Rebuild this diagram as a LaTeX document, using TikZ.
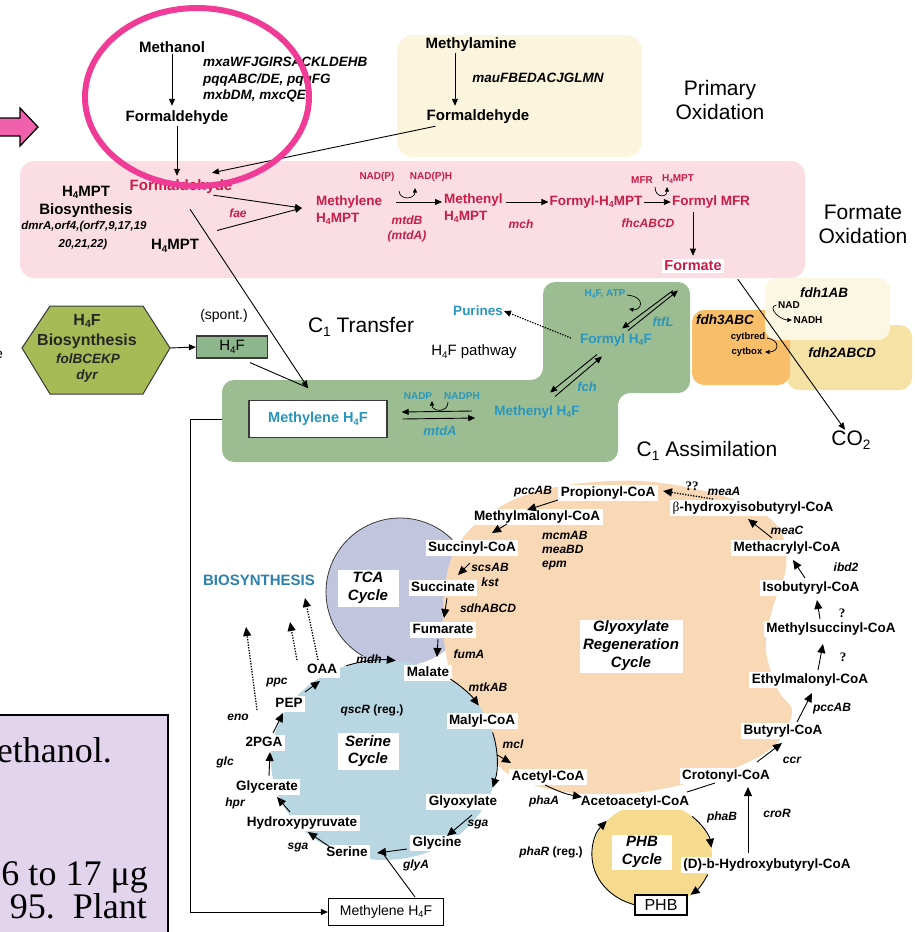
\documentclass[tikz,border=0pt]{standalone}
\usepackage{fontspec}
\setmainfont{Liberation Sans}
\newfontfamily\serifface{Liberation Serif}
\usetikzlibrary{arrows.meta,calc}
\pgfdeclarelayer{bg}
\pgfdeclarelayer{top}
\pgfsetlayers{bg,main,top}
\newcommand{\lo}[1]{\raisebox{-0.3ex}{\scalebox{0.65}{#1}}}

\definecolor{fred}{HTML}{C91C46}
\definecolor{fteal}{HTML}{2A96BE}
\definecolor{bioteal}{HTML}{2A80AE}
\definecolor{primbg}{HTML}{FBF5DE}
\definecolor{formbg}{HTML}{FADEE4}
\definecolor{cgreen}{HTML}{9CBD92}
\definecolor{hexfill}{HTML}{A6BA56}
\definecolor{h4fbox}{HTML}{8EB68C}
\definecolor{boxline}{HTML}{3A3A3A}
\definecolor{fdhone}{HTML}{FCF7E2}
\definecolor{fdhtwo}{HTML}{F7E2A5}
\definecolor{fdhthree}{HTML}{F8BE69}
\definecolor{peach}{HTML}{F9D8B6}
\definecolor{tcafill}{HTML}{C1C5DE}
\definecolor{serfill}{HTML}{B9D7E3}
\definecolor{phbfill}{HTML}{F6DA8E}
\definecolor{hotpink}{HTML}{F03C96}
\definecolor{arrpink}{HTML}{F060AC}
\definecolor{lavender}{HTML}{E1D4EC}

\tikzset{
  up/.style={font=\fontsize{15}{18}\selectfont\bfseries, inner sep=1pt},
  hd/.style={font=\fontsize{21}{24}\selectfont, align=center, inner sep=0pt},
  rd/.style={font=\fontsize{13.5}{16.5}\selectfont\bfseries, text=fred, inner sep=1pt},
  gu/.style={font=\fontsize{13.5}{16.5}\selectfont\bfseries\itshape, inner sep=1pt},
  gl/.style={font=\fontsize{12}{14}\selectfont\bfseries\itshape, inner sep=1pt},
  sm/.style={font=\fontsize{10}{11}\selectfont\bfseries, inner sep=0.5pt},
  tl/.style={font=\fontsize{13.5}{16}\selectfont\bfseries, text=fteal, inner sep=1pt},
  met/.style={font=\fontsize{13.5}{16}\selectfont\bfseries, fill=white,
    inner xsep=2.5pt, inner ysep=2pt, text height=9.8pt, text depth=2.8pt},
  cyc/.style={font=\fontsize{15}{17.5}\selectfont\bfseries\itshape, fill=white,
    align=center, inner sep=0pt},
  qm/.style={font=\serifface\fontsize{13}{15}\selectfont\bfseries, inner sep=0.5pt},
  lv/.style={font=\serifface\fontsize{36}{40}\selectfont, anchor=base east, inner sep=0pt},
  ln/.style={line width=0.9pt},
  ar/.style={ln, -{Triangle[length=9pt,width=8pt]}},
  ars/.style={ln, -{Triangle[length=7pt,width=6pt]}},
  art/.style={line width=0.7pt, -{Triangle[length=4.5pt,width=4pt]}},
  dt/.style={line width=1.3pt, dash pattern=on 1.3pt off 1.4pt},
}

\begin{document}
\begin{tikzpicture}[x=1pt,y=-1pt]
\useasboundingbox (0,0) rectangle (914,932);

% ---------- reference points of the cycles ----------
\coordinate (tcacen) at (400,592);
\coordinate (sercen) at (384,760);
\coordinate (phbcen) at (652,855);
\coordinate (hexL) at (22,348);
\coordinate (hexR) at (170,348);
\coordinate (gedge) at (222,419);

% ---------- background areas ----------
\begin{pgfonlayer}{bg}
  \fill[primbg, rounded corners=16] (397,35) rectangle (642,157);
  \fill[formbg, rounded corners=14] (20,161) rectangle (805,278);
  \fill[fdhtwo, rounded corners=12] (787,325) rectangle (912,390);
  \fill[fdhthree, rounded corners=12] (692,310) rectangle (790,385);
  \fill[fdhone, rounded corners=12] (765,278) rectangle (890,340);
  \fill[cgreen, rounded corners=12] (222,380) -- (543,380) -- (543,282) -- (690,282)
     -- (690,393) -- (618,393) -- (618,462) -- (222,462) -- cycle;
  \filldraw[fill=hexfill, draw=boxline, line width=1pt]
     (hexL) -- (50,306) -- (143,306) -- (hexR) -- (143,394) -- (50,394) -- cycle;
  \fill[tcafill] (tcacen) circle[radius=74];
  \fill[peach] plot[smooth cycle, tension=0.6] coordinates {
     (478,522) (520,497) (575,484) (640,481) (700,490) (750,506) (780,530)
     (786,568) (772,610) (766,650) (778,690) (792,712) (775,745) (735,768)
     (685,784) (625,794) (565,792) (515,778) (490,755) (470,720) (452,680)
     (443,630) (445,585) (455,550)};
  \fill[serfill] (sercen) ellipse[x radius=113, y radius=100];
  \fill[phbfill] (phbcen) ellipse[x radius=60, y radius=52];
\end{pgfonlayer}

% ---------- primary oxidation ----------
\node[up] (meoh) at (172,47) {Methanol};
\node[gu, align=left, anchor=west] (mxa) at (202,80)
   {mxaWFJGIRSACKLDEHB\\pqqABC/DE, pqqFG\\mxbDM, mxcQE};
\node[up] (fa1) at (177,118) {Formaldehyde};
\node[up] (meam) at (471,45) {Methylamine};
\node[gu] (mau) at (538,78) {mauFBEDACJGLMN};
\node[up] (fa2) at (478,117) {Formaldehyde};
\node[hd] (prim) at (720,100) {Primary\\Oxidation};

% ---------- formate oxidation ----------
\node[hd] (fox) at (863,224) {Formate\\Oxidation};
\node[rd, font=\fontsize{15}{18}\selectfont\bfseries] (fa3) at (181,187) {Formaldehyde};
\node[up, align=center] (h4bio) at (86,202) {H\lo{4}MPT\\Biosynthesis};
\node[gl, font=\fontsize{11.5}{13}\selectfont\bfseries\itshape] (dmr) at (84,227) {dmrA,orf4,(orf7,9,17,19};
\node[gl, font=\fontsize{11.5}{13}\selectfont\bfseries\itshape] (dmrb) at (83,245) {20,21,22)};
\node[up] (h4mpt) at (175,246) {H\lo{4}MPT};
\node[rd, align=left, anchor=west] (mh4mpt) at (315,210) {Methylene\\H\lo{4}MPT};
\node[rd, align=left, anchor=west] (meh4mpt) at (443,208) {Methenyl\\H\lo{4}MPT};
\node[rd] (fh4mpt) at (596,202) {Formyl-H\lo{4}MPT};
\node[rd] (fmfr) at (711,202) {Formyl MFR};
\node[rd, fill=white, font=\fontsize{14.5}{17}\selectfont\bfseries, inner sep=2pt] (fmt) at (693,266) {Formate};
\node[sm, text=fred] (nadp) at (377,177) {NAD(P)};
\node[sm, text=fred] (nadph) at (431,177) {NAD(P)H};
\node[sm, text=fred] (mfr) at (642,180) {MFR};
\node[sm, text=fred] (h4s) at (678,179) {H\lo{4}MPT};
\node[gl, text=fred] (fae) at (238,213) {fae};
\node[gl, text=fred, align=center, font=\fontsize{12}{15}\selectfont\bfseries\itshape] (mtdb) at (407,229) {mtdB\\(mtdA)};
\node[gl, text=fred] (mch) at (521,224) {mch};
\node[gl, text=fred] (fhc) at (648,223) {fhcABCD};

% ---------- formate dehydrogenases ----------
\node[gu] (fdh1) at (824,293) {fdh1AB};
\node[gu] (fdh3) at (725,320) {fdh3ABC};
\node[gu] (fdh2) at (842,353) {fdh2ABCD};
\node[sm] (nad) at (789,305) {NAD};
\node[sm] (nadh) at (808,320) {NADH};
\node[sm, font=\fontsize{9.5}{10}\selectfont\bfseries] (cytr) at (748,337) {cytbred};
\node[sm, font=\fontsize{9.5}{10}\selectfont\bfseries] (cyto) at (747,352) {cytbox};
\node[hd] (co2) at (851,440) {CO\lo{2}};

% ---------- C1 transfer ----------
\node[hd] (c1t) at (361,327) {C\lo{1} Transfer};
\node[tl] (pur) at (478,311) {Purines};
\node[font=\fontsize{15}{18}\selectfont, inner sep=1pt] (h4fp) at (474,352) {H\lo{4}F pathway};
\node[tl] (fh4f) at (616,340) {Formyl H\lo{4}F};
\node[sm, text=fteal] (h4fatp) at (605,294) {H\lo{4}F, ATP};
\node[gl, text=fteal, font=\fontsize{13}{15}\selectfont\bfseries\itshape] (ftfl) at (663,322) {ftfL};
\node[gl, text=fteal, font=\fontsize{13}{15}\selectfont\bfseries\itshape] (fch) at (587,387) {fch};
\node[tl] (meh4f) at (537,412) {Methenyl H\lo{4}F};
\node[sm, text=fteal] (nadp2) at (418,396) {NADP};
\node[sm, text=fteal] (nadph2) at (462,396) {NADPH};
\node[gl, text=fteal, font=\fontsize{13}{15}\selectfont\bfseries\itshape] (mtda) at (440,431) {mtdA};
\node[draw=boxline, line width=1.4pt, fill=white, minimum width=138pt, minimum height=37pt,
      font=\fontsize{14.5}{17}\selectfont\bfseries, text=fteal, inner sep=0pt] (mh4f) at (318,419) {Methylene H\lo{4}F};
\node[hd] (c1a) at (707,451) {C\lo{1} Assimilation};

% ---------- H4F biosynthesis ----------
\node[font=\fontsize{16}{18}\selectfont\bfseries, text=black!85, inner sep=0.5pt] (hxa) at (87,321) {H\lo{4}F};
\node[font=\fontsize{16}{18}\selectfont\bfseries, text=black!85, inner sep=0.5pt] (hxb) at (87,341) {Biosynthesis};
\node[gu, text=black!85] (hxc) at (88,359) {folBCEKP};
\node[gu, text=black!85] (hxd) at (87,376) {dyr};
\node[draw=boxline, fill=h4fbox, line width=1.2pt, minimum width=71pt, minimum height=22pt,
      font=\fontsize{15}{17}\selectfont, inner sep=0pt] (h4fb) at (232,347) {H\lo{4}F};
\node[font=\fontsize{14}{16}\selectfont, inner sep=0.5pt] (spont) at (224,316) {(spont.)};

% ---------- C1 assimilation: metabolites ----------
\node[font=\fontsize{15}{17}\selectfont\bfseries, text=bioteal, inner sep=0.5pt] (bios) at (259,580) {BIOSYNTHESIS};
\node[met] (prop) at (608,493) {Propionyl-CoA};
\node[met] (bhib) at (753,508) {{\serifface\mdseries β}-hydroxyisobutyryl-CoA};
\node[met] (mmal) at (537,517) {Methylmalonyl-CoA};
\node[met] (succoa) at (472,548) {Succinyl-CoA};
\node[met] (succ) at (443,588) {Succinate};
\node[met] (fum) at (443,630) {Fumarate};
\node[met] (mal) at (428,673) {Malate};
\node[met] (oaa) at (322,670) {OAA};
\node[met] (pep) at (289,704) {PEP};
\node[met] (pga) at (264,743) {2PGA};
\node[met] (glyc) at (267,787) {Glycerate};
\node[met] (hpyr) at (302,823) {Hydroxypyruvate};
\node[met] (ser) at (347,853) {Serine};
\node[met] (glyn) at (437,843) {Glycine};
\node[met] (glx) at (463,802) {Glyoxylate};
\node[met] (malyl) at (482,721) {Malyl-CoA};
\node[met] (acet) at (548,777) {Acetyl-CoA};
\node[met] (acac) at (635,802) {Acetoacetyl-CoA};
\node[met] (crot) at (726,776) {Crotonyl-CoA};
\node[met] (but) at (783,731) {Butyryl-CoA};
\node[met] (ethm) at (810,680) {Ethylmalonyl-CoA};
\node[met] (msuc) at (831,629) {Methylsuccinyl-CoA};
\node[met] (isob) at (811,588) {Isobutyryl-CoA};
\node[met] (macr) at (787,548) {Methacrylyl-CoA};
\node[met] (dhb) at (767,865) {(D)-b-Hydroxybutyryl-CoA};

\node[cyc, minimum width=103pt, minimum height=53pt, font=\fontsize{15}{18}\selectfont\bfseries\itshape] (gcyc) at (631,646) {Glyoxylate\\Regeneration\\Cycle};
\node[cyc, minimum width=61pt, minimum height=37pt] (tcac) at (368,588) {TCA\\Cycle};
\node[cyc, minimum width=61pt, minimum height=37pt] (serc) at (368,751) {Serine\\Cycle};
\node[cyc, minimum width=60pt, minimum height=35pt] (phbc) at (642,852) {PHB\\Cycle};
\node[draw=black, line width=1.2pt, fill=white, minimum width=52pt, minimum height=20pt,
      font=\fontsize{16}{18}\selectfont, inner sep=0pt] (phb) at (661,905) {PHB};
\node[draw=black, line width=1.2pt, fill=white, minimum width=115pt, minimum height=27pt,
      font=\fontsize{14}{16}\selectfont, inner sep=0pt] (mh4fb) at (386,912) {Methylene H\lo{4}F};

% ---------- C1 assimilation: genes ----------
\node[gl] (pccab) at (533,492) {pccAB};
\node[qm] (qq) at (692,486) {??};
\node[gl] (meaa) at (724,491) {meaA};
\node[gl, align=left, anchor=west, font=\fontsize{12}{14}\selectfont\bfseries\itshape] (mcm) at (541,551) {mcmAB\\meaBD\\epm};
\node[gl, align=center, font=\fontsize{12}{15}\selectfont\bfseries\itshape] (scs) at (490,575) {scsAB\\kst};
\node[gl] (sdh) at (488,608) {sdhABCD};
\node[gl] (fuma) at (469,654) {fumA};
\node[gl] (mdh) at (369,659) {mdh};
\node[gl] (mtk) at (488,687) {mtkAB};
\node[gl] (ppc) at (277,683) {ppc};
\node[gl] (eno) at (238,717) {eno};
\node[gl] (glc) at (225,762) {glc};
\node[gl] (hpr) at (235,803) {hpr};
\node[gl] (sgaa) at (298,848) {sga};
\node[gl] (glya) at (416,865) {glyA};
\node[gl] (sgab) at (478,825) {sga};
\node[gl] (mcl) at (513,744) {mcl};
\node[gl] (phaa) at (544,801) {phaA};
\node[gl] (phab) at (722,817) {phaB};
\node[font=\fontsize{12}{14}\selectfont\bfseries, inner sep=1pt] (phar) at (551,852) {\itshape phaR\upshape{} (reg.)};
\node[font=\fontsize{12}{14}\selectfont\bfseries, inner sep=1pt] (qscr) at (372,710) {\itshape qscR\upshape{} (reg.)};
\node[gl] (cror) at (777,813) {croR};
\node[gl] (ccr) at (792,760) {ccr};
\node[gl] (pccabb) at (832,709) {pccAB};
\node[qm] (qa) at (843,657) {?};
\node[qm] (qb) at (842,613) {?};
\node[gl] (ibd) at (846,567) {ibd2};
\node[gl] (meac) at (787,530) {meaC};

% ---------- edge fragment at the left margin ----------
\node[font=\fontsize{14}{16}\selectfont, anchor=base east, inner sep=0pt] (frag) at (3,358) {e};

% ================= connectors: upper part =================
\draw[ars] (meoh.south) -- ([yshift=4pt]meoh.south |- fa1.north);
\draw[ars] (fa1.south) -- ([yshift=3pt]fa1.south |- fa3.north);
\draw[ars] ([xshift=-16pt]meam.south) -- ([xshift=-16pt, yshift=3pt]meam.south |- fa2.north);
\draw[ln, -{Triangle[length=7pt,width=6pt]}] ($(fa2.south west)+(10,1)$) -- ($(fa3.north)+(31,-6)$);
\draw[ars] ($(fa3.south east)+(-20,0)$) -- ($(mh4mpt.west)+(-13,-2)$);
\draw[ars] ($(h4mpt.north east)+(17,-8)$) -- ($(mh4mpt.west)+(-13,-2)$);
\draw[ars] ($(mh4mpt.east)+(13,-8)$) -- ($(meh4mpt.west)+(-1,-6)$);
\draw[art] ($(nadp)+(22,14)$) .. controls +(1,10) and +(0,11) .. ($(nadph)+(-16,11)$);
\draw[ars] ($(meh4mpt.east)+(2,-6)$) -- (fh4mpt.west);
\draw[ars] (fh4mpt.east) -- (fmfr.west);
\draw[art] ($(mfr)+(13,7)$) .. controls +(0,11) and +(0,11) .. ($(h4s)+(-11,8)$);
\draw[ars] ($(fmfr.south)+(-18,3)$) -- ([yshift=3pt]fmt.north -| 693,0);
\draw[ars] ($(fmt.south east)+(14,6)$) -- ($(co2.north)+(-6,-1)$);
\draw[art] ($(nad.west)+(-1,0)$) .. controls +(-10,2) and +(-12,0) .. ($(nadh.west)+(-1,0)$);
\draw[art] ($(cytr.east)+(1,1)$) .. controls +(14,2) and +(14,0) .. ($(cyto.east)+(2,0)$);

% ================= connectors: C1 transfer =================
\draw[ars] (hexR) -- (h4fb.west);
\draw[ars] ($(fa3.south)+(9,14)$) -- ($(mh4f.north)+(-10,-12)$);
\draw[ln] ($(h4fb.south)+(18,4)$) -- ($(mh4f.north)+(-10,-12)$);
\draw[ars] ($(meh4f.west)+(-21,-1)$) -- ($(mh4f.east)+(14,-7)$);
\draw[ars] ($(mh4f.east)+(15,0)$) -- ($(meh4f.west)+(-18,6)$);
\draw[art] ($(nadph2)+(-14,6)$) .. controls +(0,11) and +(0,11) .. ($(nadp2)+(14,5)$);
\draw[ars] ($(fh4f.south)+(-19,7)$) -- ($(meh4f.north)+(13,-12)$);
\draw[ars] ($(meh4f.north)+(18,-8)$) -- ($(fh4f.south)+(-14,9)$);
\draw[ars] ($(fh4f.north)+(57,-42)$) -- ($(fh4f.north)+(6,-4)$);
\draw[ars] ($(fh4f.north)+(12,-2)$) -- ($(fh4f.north)+(62,-42)$);
\draw[art] ($(h4fatp)+(22,1)$) .. controls +(20,2) and +(12,2) .. ($(fh4f)+(13,-31)$);
\draw[dt, -{Triangle[length=7pt,width=6pt]}] ($(fh4f.west)+(-8,-2)$) -- (pur.east);
\draw[ars] (gedge) -- (190,419) |- (mh4fb.west);

% ================= connectors: C1 assimilation =================
% TCA outline
\draw[line width=0.8pt, boxline] ([shift={(120:74)}]tcacen) arc[start angle=120, end angle=315, radius=74];
% serine cycle arcs
\draw[ar] ([shift={(-109.5:113 and 100)}]sercen) arc[start angle=-109.5, end angle=-84, x radius=113, y radius=100];
\draw[ar] ([shift={(-54:113 and 100)}]sercen) arc[start angle=-54, end angle=-33, x radius=113, y radius=100];
\draw[ar] ([shift={(-16:113 and 100)}]sercen) arc[start angle=-16, end angle=16, x radius=113, y radius=100];
\draw[ar] ([shift={(-3:113 and 100)}]sercen) -- ($(acet)+(-37,-14)$);
\draw[ar] ($(glx)+(9,13)$) -- ($(glyn)+(10,-7)$);
\draw[ar] ($(glyn)+(-30,6)$) -- ($(ser)+(30,0)$);
\draw[ln] ($(mh4fb)+(29,-15)$) -- ($(ser)+(37,2)$);
\draw[ar] ($(ser)+(-17,-6)$) -- ($(hpyr)+(6,9)$);
\draw[ar] ($(hpyr)+(-12,-11)$) -- ($(glyc)+(10,10)$);
\draw[ar] ($(glyc)+(2,-11)$) -- ($(pga)+(6,9)$);
\draw[ar] ($(pga)+(9,-10)$) -- ($(pep)+(-6,9)$);
\draw[ar] ($(pep)+(16,-12)$) -- ($(oaa)+(-2,11)$);
\draw[dt, -{Triangle[length=9pt,width=8pt]}] ($(pep)+(-32,6)$) -- ($(bios)+(-13,47)$);
\draw[dt, -{Triangle[length=9pt,width=8pt]}] ($(oaa)+(-25,-10)$) -- ($(bios)+(31,42)$);
\draw[dt, -{Triangle[length=9pt,width=8pt]}] ($(oaa)+(-4,-10)$) -- ($(bios)+(46,18)$);
% TCA and glyoxylate regeneration
\draw[dt, -{Triangle[length=9pt,width=8pt]}] ($(bhib)+(-40,-9)$) -- ($(prop)+(55,-2)$);
\draw[ar] ($(prop)+(-50,7)$) -- ($(mmal)+(-10,-7)$);
\draw[ar] ($(mmal)+(-30,7)$) -- ($(succoa)+(20,-15)$);
\draw[ar] ($(succoa)+(-2,15)$) -- ($(succ)+(15,-13)$);
\draw[ar] ($(succ)+(4,10)$) -- ($(fum)+(1,-12)$);
\draw[ar] ($(fum)+(-5,9)$) -- ($(mal)+(9,-16)$);
\draw[ar] ($(acet)+(-3,8)$) to[bend right=8] ($(acac)+(-53,-5)$);
\draw[ln] ($(acac)+(52,-10)$) -- ($(crot)+(-11,7)$);
\draw[ar] ($(crot)+(31,-14)$) -- ($(but)+(-1,12)$);
\draw[ar] ($(but)+(14,-9)$) -- ($(ethm)+(2,13)$);
\draw[ar] ($(ethm)+(8,-10)$) -- ($(msuc)+(-8,15)$);
\draw[ar] ($(msuc)+(-11,-10)$) -- ($(isob)+(6,12)$);
\draw[ar] ($(isob)+(-6,-10)$) -- ($(macr)+(6,12)$);
\draw[ar] ($(macr)+(-15,-10)$) -- ($(bhib)+(-5,11)$);
\draw[ar] ($(dhb)+(-19,-12)$) -- ($(crot)+(22,11)$);
% PHB cycle arcs
\draw[ar] ([shift={(106:60 and 52)}]phbcen) arc[start angle=106, end angle=221, x radius=60, y radius=52];
\draw[ar] ([shift={(-48:60 and 52)}]phbcen) arc[start angle=-48, end angle=-8, x radius=60, y radius=52];
\draw[ar] ([shift={(22:60 and 52)}]phbcen) arc[start angle=22, end angle=50, x radius=60, y radius=52];

% ================= overlay marks =================
\begin{pgfonlayer}{top}
  \draw[hotpink, line width=6pt] (197,97) ellipse[x radius=112, y radius=89];
  \filldraw[fill=arrpink, draw=black, line width=1.3pt]
     (-3,118) -- (20,118) -- (20,108) -- (38,127) -- (20,146) -- (20,136) -- (-3,136) -- cycle;
  \filldraw[fill=lavender, draw=black, line width=2pt] (-5,715) rectangle (168,945);
  \begin{scope}
    \clip (0,716) rectangle (167,945);
    \node[lv] (lva) at (112,762) {ethanol.};
    \node[lv] (lvb) at (148,885) {6 to 17 μg};
    \node[lv] (lvc) at (147,918) {95.\ \ Plant};
  \end{scope}
\end{pgfonlayer}
\end{tikzpicture}
\end{document}
